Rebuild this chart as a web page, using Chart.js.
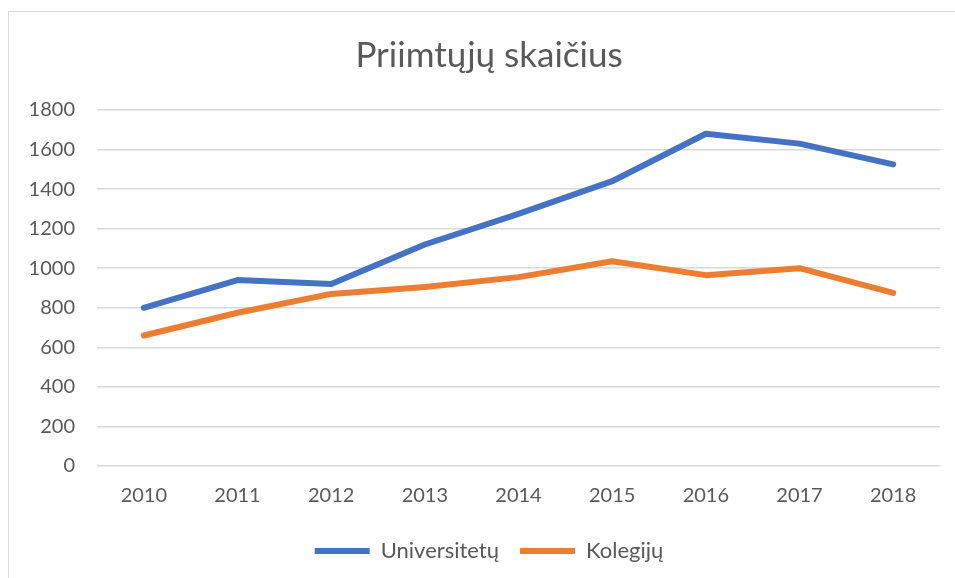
<!DOCTYPE html>
<html>
<head>
<meta charset="utf-8">
<script src="https://cdn.jsdelivr.net/npm/chart.js@4/dist/chart.umd.min.js"></script>
<style>
  html, body { margin: 0; padding: 0; background: #fff; overflow: hidden; }
  #frame {
    position: absolute; left: 8px; top: 11px;
    width: 960px; height: 590px;
    border-top: 1px solid #d9d9d9; border-left: 1px solid #d9d9d9;
  }
</style>
</head>
<body>
<div id="frame"><canvas id="chart" width="960" height="590"></canvas></div>
<script>
const years = ['2010', '2011', '2012', '2013', '2014', '2015', '2016', '2017', '2018'];
const universitetu = [800, 940, 920, 1120, 1275, 1440, 1680, 1630, 1525];
const kolegiju = [660, 775, 870, 905, 955, 1035, 965, 1000, 875];
const yTicks = [0, 200, 400, 600, 800, 1000, 1200, 1400, 1600, 1800];

const textColor = '#595959';
const gridColor = '#d9d9d9';
const fontFamily = 'Lato, "Open Sans", sans-serif';

function lineSet(label, data, color) {
  return {
    label, data,
    borderColor: color, backgroundColor: color,
    borderWidth: 6, pointRadius: 0, tension: 0,
    borderCapStyle: 'round', borderJoinStyle: 'round'
  };
}

new Chart(document.getElementById('chart'), {
  type: 'line',
  data: {
    labels: years,
    datasets: [
      lineSet('Universitetų', universitetu, '#4472c4'),
      lineSet('Kolegijų', kolegiju, '#ed7d31')
    ]
  },
  options: {
    responsive: false,
    animation: false,
    layout: { padding: { left: 0, right: 0, top: 0, bottom: 30 } },
    plugins: {
      title: {
        display: true,
        text: 'Priimtųjų skaičius',
        color: textColor,
        font: { family: fontFamily, size: 35, weight: 'normal' },
        padding: { top: 23, bottom: 33 }
      },
      legend: {
        position: 'bottom',
        labels: {
          color: textColor,
          font: { family: fontFamily, size: 22 },
          usePointStyle: true,
          pointStyle: 'line',
          pointStyleWidth: 55,
          padding: 21
        }
      },
      tooltip: { enabled: false }
    },
    scales: {
      x: {
        offset: true,
        grid: { display: false },
        border: { display: false },
        ticks: { color: textColor, font: { family: fontFamily, size: 20 }, padding: 10 },
        afterFit: s => { s.height = 53; }
      },
      y: {
        min: 0, max: 1800,
        afterBuildTicks: s => { s.ticks = yTicks.map(v => ({ value: v })); },
        grid: { color: gridColor, lineWidth: 1.5, drawTicks: false },
        border: { display: false },
        ticks: { color: textColor, font: { family: fontFamily, size: 20 }, padding: 22, callback: v => String(v) },
        afterFit: s => { s.width = 88; }
      },
      // empty strip on the right, keeps title and legend centred on the frame
      right: {
        position: 'right',
        display: true,
        grid: { display: false },
        border: { display: false },
        ticks: { display: false },
        afterFit: s => { s.width = 29; }
      }
    }
  }
});
</script>
</body>
</html>
